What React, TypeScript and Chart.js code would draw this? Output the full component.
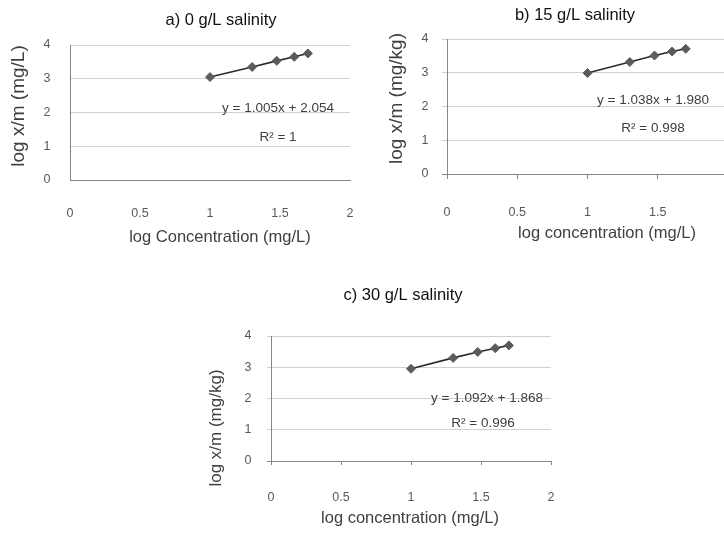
import React, { useEffect, useRef } from "react";
import { Chart, registerables } from "chart.js";

Chart.register(...registerables);

const FONT = "'Liberation Sans', Arial, Helvetica, sans-serif";

// log of the initial concentration (10, 20, 30, 40, 50 mg/L)
const logConc = [1, 1.301, 1.477, 1.602, 1.699];
// log x/m for each salinity
const sorbed0 = [3.05, 3.35, 3.53, 3.65, 3.75];
const sorbed15 = [2.99, 3.32, 3.51, 3.63, 3.71];
const sorbed30 = [2.95, 3.3, 3.49, 3.61, 3.7];

const xTickValues = [0, 0.5, 1, 1.5, 2];
const xTickLabels = ["0", "0.5", "1", "1.5", "2"];
const yTickValues = [0, 1, 2, 3, 4];
const yTickLabels = ["0", "1", "2", "3", "4"];

const panelTitles = ["a) 0 g/L salinity", "b) 15 g/L salinity", "c) 30 g/L salinity"];
const xAxisTitles = ["log Concentration (mg/L)", "log concentration (mg/L)", "log concentration (mg/L)"];
const yAxisTitles = ["log x/m (mg/L)", "log x/m (mg/kg)", "log x/m (mg/kg)"];
const equations = ["y = 1.005x + 2.054", "y = 1.038x + 1.980", "y = 1.092x + 1.868"];
const rSquared = ["R\u00B2 = 1", "R\u00B2 = 0.998", "R\u00B2 = 0.996"];

const seriesList = [sorbed0, sorbed15, sorbed30];

type Layout = {
  left: number; top: number; w: number; h: number;
  area: { l: number; r: number; t: number; b: number };
  ticks: boolean; tickLen: number; yPad: number; xPad: number;
  title: [number, number]; yTitle: [number, number, number]; xTitle: [number, number];
  eq: [number, number]; r2: [number, number];
};

const layouts: Layout[] = [
  {
    left: 0, top: 0, w: 370, h: 260,
    area: { l: 70, r: 350, t: 45, b: 180 },
    ticks: false, tickLen: 0, yPad: 19.5, xPad: 25.8,
    title: [221, 20], yTitle: [19, 106, 19], xTitle: [220, 237],
    eq: [278, 108], r2: [278, 137],
  },
  {
    left: 370, top: 0, w: 380, h: 260,
    area: { l: 77, r: 358, t: 39, b: 174 },
    ticks: true, tickLen: 5, yPad: 13.6, xPad: 26.5,
    title: [205, 15], yTitle: [27, 98.5, 19], xTitle: [237, 233],
    eq: [283, 100], r2: [283, 128],
  },
  {
    left: 190, top: 270, w: 380, h: 266,
    area: { l: 81, r: 361, t: 66, b: 191 },
    ticks: true, tickLen: 4, yPad: 15.6, xPad: 25.5,
    title: [213, 25], yTitle: [26, 158, 17], xTitle: [220, 248],
    eq: [297, 128], r2: [293, 153],
  },
];

type TextItem = { text: string; x: number; y: number; size: number; color: string; rotate?: boolean };

function makeTextPlugin(items: TextItem[]) {
  return {
    id: "panelText",
    afterDraw(chart: any) {
      const ctx = chart.ctx as CanvasRenderingContext2D;
      items.forEach((it) => {
        ctx.save();
        ctx.font = `${it.size}px ${FONT}`;
        ctx.fillStyle = it.color;
        ctx.textAlign = "center";
        ctx.textBaseline = "middle";
        ctx.translate(it.x, it.y);
        if (it.rotate) ctx.rotate(-Math.PI / 2);
        ctx.fillText(it.text, 0, 0);
        ctx.restore();
      });
    },
  };
}

const AXIS = "#868686";
const GRID = "#d0d0d0";

function Panel({ idx }: { idx: number }) {
  const ref = useRef<HTMLCanvasElement | null>(null);
  const L = layouts[idx];

  useEffect(() => {
    if (!ref.current) return;
    const { w, h, area } = L;
    const values = seriesList[idx];
    const items: TextItem[] = [
      { text: panelTitles[idx], x: L.title[0], y: L.title[1], size: 16.5, color: "#111111" },
      { text: yAxisTitles[idx], x: L.yTitle[0], y: L.yTitle[1], size: L.yTitle[2], color: "#404040", rotate: true },
      { text: xAxisTitles[idx], x: L.xTitle[0], y: L.xTitle[1], size: 16.5, color: "#404040" },
      { text: equations[idx], x: L.eq[0], y: L.eq[1], size: 13.5, color: "#404040" },
      { text: rSquared[idx], x: L.r2[0], y: L.r2[1], size: 13.5, color: "#404040" },
    ];
    const chart = new Chart(ref.current, {
      type: "scatter",
      data: {
        datasets: [
          {
            data: logConc.map((x, i) => ({ x, y: values[i] })),
            showLine: true,
            borderColor: "#2a2a2a",
            borderWidth: 1.6,
            pointStyle: "rectRot",
            pointRadius: 4.5,
            pointBackgroundColor: "#5b5b5b",
            pointBorderColor: "#5b5b5b",
            pointBorderWidth: 1,
          },
        ],
      },
      options: {
        responsive: false,
        animation: false,
        devicePixelRatio: 1,
        layout: { padding: { left: 0, top: area.t, right: w - area.r, bottom: 0 } },
        plugins: {
          legend: { display: false },
          tooltip: { enabled: false },
          title: { display: false },
        },
        scales: {
          x: {
            type: "linear",
            min: 0,
            max: 2,
            afterBuildTicks: (s: any) => {
              s.ticks = xTickValues.map((v) => ({ value: v }));
            },
            afterFit: (s: any) => {
              s.height = h - area.b;
              s.paddingLeft = 0;
              s.paddingRight = 0;
            },
            ticks: {
              autoSkip: false,
              maxRotation: 0,
              padding: L.xPad,
              color: "#595959",
              font: { family: FONT, size: 12.5 },
              callback: (_v: any, i: number) => xTickLabels[i],
            },
            grid: {
              display: true,
              drawOnChartArea: false,
              drawTicks: L.ticks,
              tickLength: L.tickLen,
              color: AXIS,
            },
            border: { display: true, color: AXIS, width: 1 },
            title: { display: false },
          },
          y: {
            type: "linear",
            min: 0,
            max: 4,
            afterBuildTicks: (s: any) => {
              s.ticks = yTickValues.map((v) => ({ value: v }));
            },
            afterFit: (s: any) => {
              s.width = area.l;
              s.paddingTop = 0;
              s.paddingBottom = 0;
            },
            ticks: {
              autoSkip: false,
              padding: L.yPad,
              color: "#595959",
              font: { family: FONT, size: 12.5 },
              callback: (_v: any, i: number) => yTickLabels[i],
            },
            grid: {
              display: true,
              drawOnChartArea: true,
              drawTicks: L.ticks,
              tickLength: L.tickLen,
              color: (c: any) => (c.tick && c.tick.value === 0 ? AXIS : GRID),
            },
            border: { display: true, color: AXIS, width: 1 },
            title: { display: false },
          },
        },
      } as any,
      plugins: [makeTextPlugin(items)],
    });
    return () => chart.destroy();
  }, []);

  return (
    <canvas
      ref={ref}
      width={L.w}
      height={L.h}
      style={{ position: "absolute", left: L.left, top: L.top, width: L.w, height: L.h }}
    />
  );
}

export default function App() {
  return (
    <div
      style={{
        position: "absolute",
        left: 0,
        top: 0,
        width: 724,
        height: 536,
        overflow: "hidden",
        background: "#ffffff",
      }}
    >
      <Panel idx={0} />
      <Panel idx={1} />
      <Panel idx={2} />
    </div>
  );
}
